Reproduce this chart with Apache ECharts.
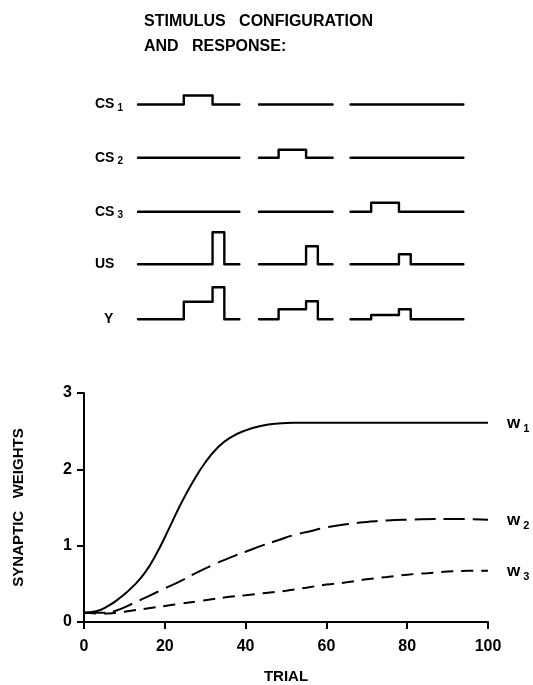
<!DOCTYPE html>
<html>
<head>
<meta charset="utf-8">
<script src="https://cdn.jsdelivr.net/npm/echarts@6/dist/echarts.min.js"></script>
<style>
html,body{margin:0;padding:0;background:#fff;}
#c{width:533px;height:685px;}
</style>
</head>
<body>
<div id="c"></div>
<script>
// ---------- Stimulus configuration data (arbitrary time / amplitude units) ----------
const segStart = [0, 37, 65];          // start of each trial's trace
const segEnd = [31, 59.5, 99.5];       // end of each trial's trace
const csOn = [14, 43, 71.3];           // CS onset in each trial
const csOff = [22.8, 51.4, 79.8];      // CS offset = US onset
const usOff = [26.4, 55, 83.4];        // US offset
const csAmp = [9, 8, 9];               // CS1, CS2, CS3 amplitude (active in trial 1, 2, 3)
const usAmp = [32, 18, 10];            // US amplitude per trial
const yStepAmp = [17.6, 10, 4.3];      // response Y during CS
const yPeakAmp = [32, 18, 10];         // response Y during US

// ---------- Learning curve data ----------
const trialW1 = [0, 3, 6, 9, 12, 15, 18, 21, 24, 27, 30, 33, 36, 40, 44, 48, 52, 60, 70, 80, 90, 100];
const w1 = [0.12, 0.14, 0.21, 0.32, 0.46, 0.64, 0.9, 1.22, 1.55, 1.84, 2.09, 2.28, 2.41, 2.51, 2.57, 2.6, 2.61, 2.61, 2.61, 2.61, 2.61, 2.61];
const trialW2 = [0, 5, 8, 12, 16, 20, 24, 28, 32, 36, 40, 44, 48, 52, 56, 60, 65, 70, 75, 80, 90, 100];
const w2 = [0.12, 0.12, 0.15, 0.24, 0.34, 0.44, 0.54, 0.65, 0.75, 0.84, 0.92, 1.0, 1.07, 1.14, 1.19, 1.24, 1.28, 1.31, 1.33, 1.34, 1.35, 1.34];
const trialW3 = [0, 5, 8, 12, 16, 20, 24, 28, 32, 36, 40, 45, 50, 55, 60, 65, 70, 75, 80, 85, 90, 95, 100];
const w3 = [0.12, 0.11, 0.12, 0.15, 0.18, 0.21, 0.24, 0.27, 0.3, 0.33, 0.35, 0.38, 0.41, 0.45, 0.49, 0.52, 0.56, 0.59, 0.62, 0.64, 0.66, 0.67, 0.67];
const xTicks = [0, 20, 40, 60, 80, 100];
const yTicks = [0, 1, 2, 3];

// ---------- build traces ----------
function pulseTrace(k, on, off, amp) {
  return [[segStart[k], 0], [on, 0], [on, amp], [off, amp], [off, 0], [segEnd[k], 0]];
}
function flatTrace(k) { return [[segStart[k], 0], [segEnd[k], 0]]; }
function joinSegs(list) {
  const out = [];
  list.forEach((s, i) => { if (i) out.push(['-', '-']); s.forEach(p => out.push(p)); });
  return out;
}
const traces = [];
for (let c = 0; c < 3; c++) {
  traces.push(joinSegs([0, 1, 2].map(k => k === c ? pulseTrace(k, csOn[k], csOff[k], csAmp[k]) : flatTrace(k))));
}
traces.push(joinSegs([0, 1, 2].map(k => pulseTrace(k, csOff[k], usOff[k], usAmp[k]))));
traces.push(joinSegs([0, 1, 2].map(k => [[segStart[k], 0], [csOn[k], 0], [csOn[k], yStepAmp[k]], [csOff[k], yStepAmp[k]], [csOff[k], yPeakAmp[k]], [usOff[k], yPeakAmp[k]], [usOff[k], 0], [segEnd[k], 0]])));

const rowBase = [104.5, 157.7, 211.7, 264.3, 319.3];
const FONT = "'Liberation Sans', Arial, Helvetica, sans-serif";

const grids = [], xAxes = [], yAxes = [], series = [];
rowBase.forEach((b, i) => {
  grids.push({ left: 138, width: 327, top: b - 35, height: 35 });
  xAxes.push({ gridIndex: i, type: 'value', min: 0, max: 100, show: false });
  yAxes.push({ gridIndex: i, type: 'value', min: 0, max: 35, show: false });
  series.push({
    type: 'line', xAxisIndex: i, yAxisIndex: i, data: traces[i], showSymbol: false, symbol: 'none',
    clip: false, connectNulls: false, silent: true,
    lineStyle: { color: '#000', width: 2.4, join: 'round', cap: 'round' }
  });
});

// learning-curve grid
grids.push({ left: 84, right: 45, top: 393, height: 232 });
xAxes.push({
  gridIndex: 5, type: 'value', min: 0, max: 100, interval: 20,
  axisLine: { show: true, lineStyle: { color: '#000', width: 2 } },
  axisTick: { show: true, length: 7, inside: false, lineStyle: { color: '#000', width: 2 } },
  axisLabel: { color: '#000', fontSize: 16, fontWeight: 'bold', fontFamily: FONT, margin: 17,
    formatter: v => xTicks.includes(v) ? String(v) : '' },
  splitLine: { show: false },
  name: 'TRIAL', nameLocation: 'middle', nameGap: 47,
  nameTextStyle: { color: '#000', fontSize: 15, fontWeight: 'bold', fontFamily: FONT }
});
yAxes.push({
  gridIndex: 5, type: 'value', min: 0, max: 3, interval: 1,
  axisLine: { show: true, lineStyle: { color: '#000', width: 2 } },
  axisTick: { show: true, length: 7, inside: false, lineStyle: { color: '#000', width: 2 } },
  axisLabel: { color: '#000', fontSize: 16, fontWeight: 'bold', fontFamily: FONT, margin: 12,
    padding: [6, 0, 0, 0],
    formatter: v => yTicks.includes(v) ? String(v) : '' },
  splitLine: { show: false },
  name: 'SYNAPTIC   WEIGHTS', nameLocation: 'middle', nameGap: 58, nameRotate: 90,
  nameTextStyle: { color: '#000', fontSize: 15, fontWeight: 'bold', fontFamily: FONT }
});

const wRich = {
  w: { fontSize: 17, fontWeight: 'bold', fontFamily: FONT, color: '#000', verticalAlign: 'bottom', lineHeight: 18 },
  s: { fontSize: 11, fontWeight: 'bold', fontFamily: FONT, color: '#000', verticalAlign: 'bottom', lineHeight: 12, padding: [0, 0, -3, 3] }
};
function wSeries(xs, ys, name, sub, dash) {
  return {
    type: 'line', name, xAxisIndex: 5, yAxisIndex: 5, data: xs.map((x, i) => [x, ys[i]]),
    showSymbol: false, symbol: 'none', smooth: 0.5, silent: true,
    lineStyle: { color: '#000', width: 2, type: dash },
    endLabel: { show: true, distance: 19, formatter: '{w|w}{s|' + sub + '}', rich: wRich }
  };
}
series.push(wSeries(trialW1, w1, 'w1', '1', 'solid'));
series.push(wSeries(trialW2, w2, 'w2', '2', [21, 8]));
series.push(wSeries(trialW3, w3, 'w3', '3', [12, 8]));

const lblRich = {
  m: { fontSize: 14, fontWeight: 'bold', fontFamily: FONT, color: '#000', verticalAlign: 'bottom', lineHeight: 16 },
  s: { fontSize: 10, fontWeight: 'bold', fontFamily: FONT, color: '#000', verticalAlign: 'bottom', lineHeight: 11, padding: [0, 0, -2, 3] }
};
const rowLabelText = ['{m|CS}{s|1}', '{m|CS}{s|2}', '{m|CS}{s|3}', '{m|US}', '{m|Y}'];
const rowLabelX = [95, 95, 95, 95, 104];
const graphics = rowLabelText.map((t, i) => ({
  type: 'text', x: rowLabelX[i], y: rowBase[i] + 7,
  style: { text: t, rich: lblRich, verticalAlign: 'bottom', fill: '#000' }
}));

const chart = echarts.init(document.getElementById('c'), null, { renderer: 'canvas' });
chart.setOption({
  animation: false,
  backgroundColor: '#fff',
  title: {
    text: 'STIMULUS   CONFIGURATION\nAND   RESPONSE:', left: 139, top: 4,
    textStyle: { color: '#000', fontSize: 16, fontWeight: 'bold', fontFamily: FONT, lineHeight: 25 }
  },
  grid: grids, xAxis: xAxes, yAxis: yAxes, series, graphic: graphics
});
</script>
</body>
</html>
